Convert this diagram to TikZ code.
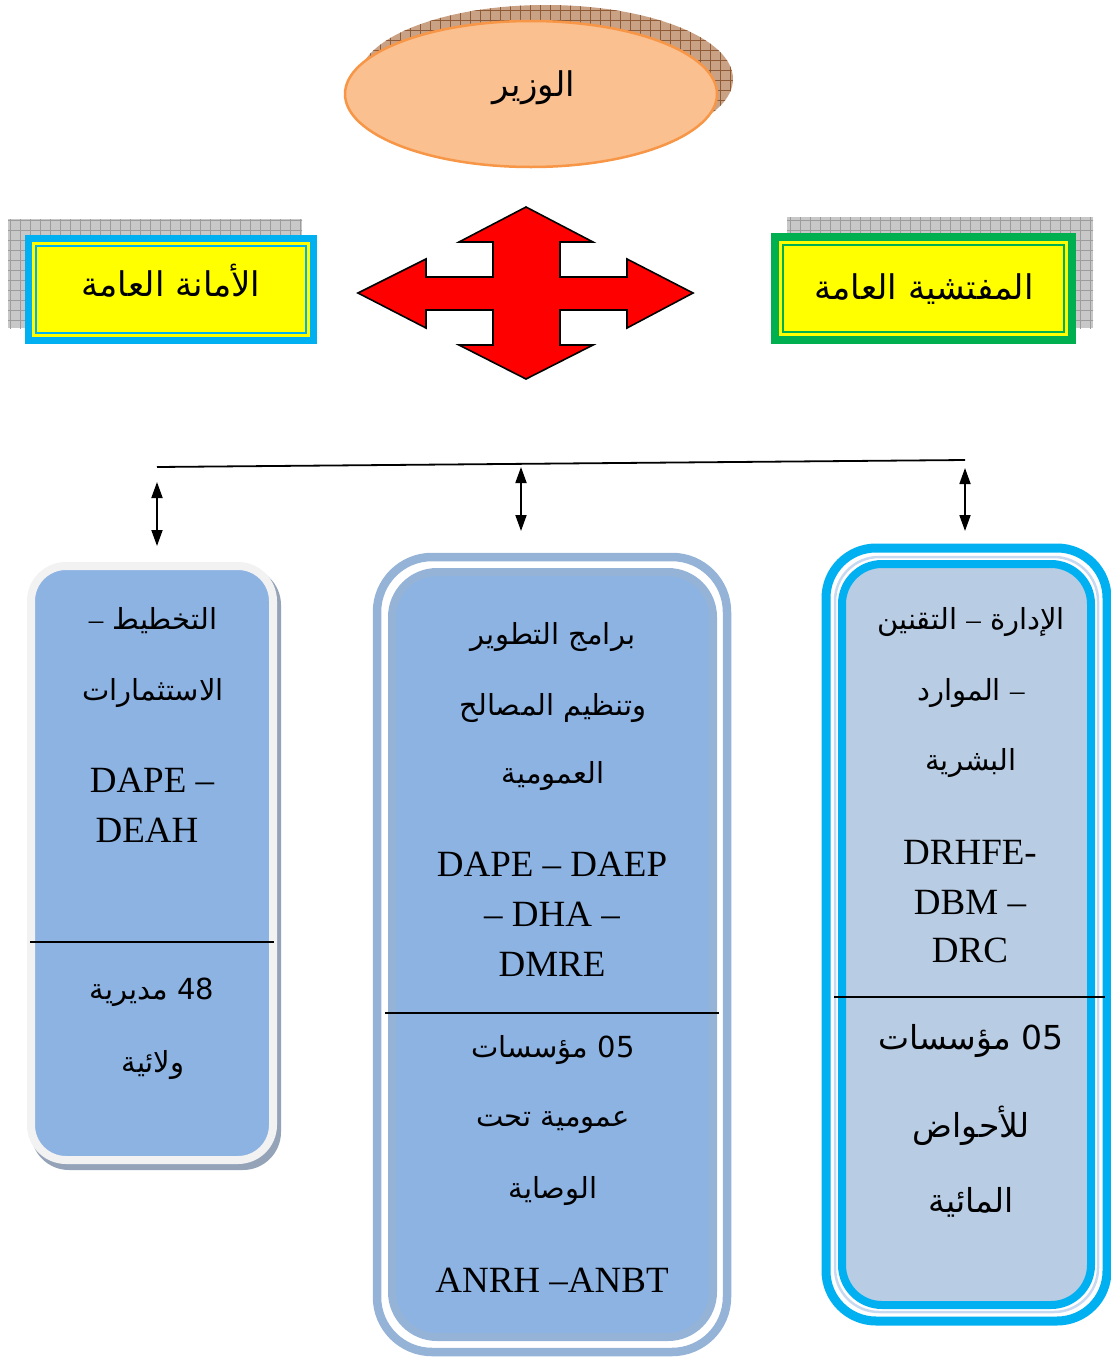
\documentclass[tikz,border=0pt]{standalone}
\usepackage{fontspec}
\setmainfont{Liberation Serif}
\newfontfamily\arabicfont[Script=Arabic]{DejaVu Sans}
\TeXXeTstate=1
\usetikzlibrary{arrows.meta}

\definecolor{peach}{HTML}{FAC090}
\definecolor{peachline}{HTML}{F79646}
\definecolor{hatchtan}{HTML}{C9A285}
\definecolor{hatchbrown}{HTML}{8E5B36}
\definecolor{gridfill}{HTML}{C8C8C8}
\definecolor{gridline}{HTML}{9C9C9C}
\definecolor{cyanx}{HTML}{00B0F0}
\definecolor{greenx}{HTML}{00B050}
\definecolor{yellowx}{HTML}{FFFF00}
\definecolor{boxblue}{HTML}{8DB3E2}
\definecolor{midframe}{HTML}{95B3D7}
\definecolor{leftframe}{HTML}{F2F2F2}
\definecolor{leftshadow}{HTML}{95A3B8}
\definecolor{rightfill}{HTML}{B8CCE4}
\definecolor{palering}{HTML}{C6D9F1}

\newcommand\artxt[1]{\arabicfont\beginR #1\endR}
% en dash set in the serif face inside Arabic lines
\newcommand\ardash{{\rmfamily –}}

\begin{document}
\begin{tikzpicture}[x=1pt,y=-1pt,
  artitle/.style={inner sep=0pt, font=\fontsize{34}{40}\selectfont},
  arline/.style={inner sep=0pt, font=\fontsize{29}{34}\selectfont},
  arbig/.style={inner sep=0pt, font=\fontsize{33}{38}\selectfont},
  latline/.style={inner sep=0pt, font=\fontsize{37}{44}\selectfont},
  divider/.style={line width=1.4pt},
  link/.style={line width=1.8pt, {Triangle[length=16pt,width=11pt]}-{Triangle[length=16pt,width=11pt]}}]
\useasboundingbox (0,0) rectangle (1111,1358);

% ---------- minister ----------
\begin{scope}
  \clip (546,79) ellipse [x radius=187, y radius=74];
  \fill[hatchtan] (350,0) rectangle (740,160);
  \draw[hatchbrown, line width=0.7pt, step=10pt] (350,0) grid (740,160);
\end{scope}
\draw[peachline, fill=peach, line width=2.5pt] (531,94) ellipse [x radius=186, y radius=73];
\node[artitle] (minister) at (534,88) {\artxt{الوزير}};

% ---------- general secretariat ----------
\fill[gridfill] (8,219) rectangle (302,328);
\begin{scope}
  \clip (8,219) rectangle (302,328);
  \draw[gridline, line width=0.7pt, step=10pt] (0,210) grid (310,340);
\end{scope}
\fill[cyanx] (25,235) rectangle (317,344);
\fill[yellowx] (32,242) rectangle (310,337);
\draw[cyanx, line width=2pt] (36,246) rectangle (306,333);
\node[artitle] (secretariat) at (171,281) {\artxt{الأمانة العامة}};

% ---------- general inspectorate ----------
\fill[gridfill] (787,217) rectangle (1093,328);
\begin{scope}
  \clip (787,217) rectangle (1093,328);
  \draw[gridline, line width=0.7pt, step=10pt] (780,210) grid (1100,340);
\end{scope}
\fill[greenx] (771,233) rectangle (1076,344);
\fill[yellowx] (779,241) rectangle (1068,336);
\draw[greenx, line width=2pt] (783,245) rectangle (1064,332);
\node[artitle] (inspectorate) at (924,289) {\artxt{المفتشية العامة}};

% ---------- four-way arrow ----------
\draw[fill=red, line width=1.6pt, line join=miter]
  (526,207) -- (593,242) -- (560,242) -- (560,277) -- (627,277) -- (627,259)
  -- (693,293) -- (627,328) -- (627,310) -- (560,310) -- (560,345) -- (593,345)
  -- (526,379) -- (459,345) -- (493,345) -- (493,310) -- (426,310) -- (426,328)
  -- (358,293) -- (426,259) -- (426,277) -- (493,277) -- (493,242) -- (459,242)
  -- cycle;

% ---------- distribution bar and links ----------
\coordinate (barL) at (157,467);
\coordinate (barR) at (965,460);
\draw[line width=1.8pt] (barL) -- (barR);
\coordinate (l1a) at (157,482);
\coordinate (l1b) at (157,546);
\coordinate (l2a) at (521,467);
\coordinate (l2b) at (521,531);
\coordinate (l3a) at (965,468);
\coordinate (l3b) at (965,531);
\draw[link] (l1a) -- (l1b);
\draw[link] (l2a) -- (l2b);
\draw[link] (l3a) -- (l3b);

% ---------- left column ----------
\fill[leftshadow, rounded corners=38] (31,567) rectangle (281,1170);
\draw[leftframe, fill=boxblue, line width=8pt, rounded corners=35] (31,566) rectangle (273,1160);
\draw[divider] (30,942) -- (274,942);
\node[arline] (lA) at (153,621) {\artxt{التخطيط \ardash}};
\node[arline] (lB) at (153,693) {\artxt{الاستثمارات}};
\node[latline] (lC) at (152,780) {DAPE –};
\node[latline] (lD) at (147,830) {DEAH};
\node[arline] (lE) at (152,992) {\artxt{\beginL 48\endL{} مديرية}};
\node[arline] (lF) at (153,1065) {\artxt{ولائية}};

% ---------- middle column ----------
\draw[midframe, line width=8.5pt, rounded corners=55] (377,557) rectangle (727,1352);
\draw[midframe, fill=boxblue, line width=8pt, rounded corners=45] (392,572) rectangle (713,1337);
\draw[divider] (385,1013) -- (719,1013);
\node[arline] (mA) at (553,637) {\artxt{برامج التطوير}};
\node[arline] (mB) at (553,708) {\artxt{وتنظيم المصالح}};
\node[arline] (mC) at (553,776) {\artxt{العمومية}};
\node[latline] (mD) at (552,864) {DAPE – DAEP};
\node[latline] (mE) at (552,914) {– DHA –};
\node[latline] (mF) at (552,964) {DMRE};
\node[arline] (mG) at (553,1050) {\artxt{\beginL 05\endL{} مؤسسات}};
\node[arline] (mH) at (553,1122) {\artxt{عمومية تحت}};
\node[arline] (mI) at (553,1191) {\artxt{الوصاية}};
\node[latline] (mJ) at (552,1280) {ANRH –ANBT};

% ---------- right column ----------
\draw[cyanx, line width=9pt, rounded corners=50] (826,548) rectangle (1107,1321);
\draw[palering, line width=2.5pt, rounded corners=44] (835,557) rectangle (1098,1312);
\draw[cyanx, fill=rightfill, line width=8pt, rounded corners=40] (842,564) rectangle (1091,1305);
\draw[divider] (834,997) -- (1105,997);
\node[arline] (rA) at (971,622) {\artxt{الإدارة \ardash{} التقنين}};
\node[arline] (rB) at (971,693) {\artxt{\ardash{} الموارد}};
\node[arline] (rC) at (971,763) {\artxt{البشرية}};
\node[latline] (rD) at (970,852) {DRHFE-};
\node[latline] (rE) at (970,902) {DBM –};
\node[latline] (rF) at (970,950) {DRC};
\node[arbig] (rG) at (971,1041) {\artxt{\beginL 05\endL{} مؤسسات}};
\node[arbig] (rH) at (971,1126) {\artxt{للأحواض}};
\node[arbig] (rI) at (971,1202) {\artxt{المائية}};
\end{tikzpicture}
\end{document}
